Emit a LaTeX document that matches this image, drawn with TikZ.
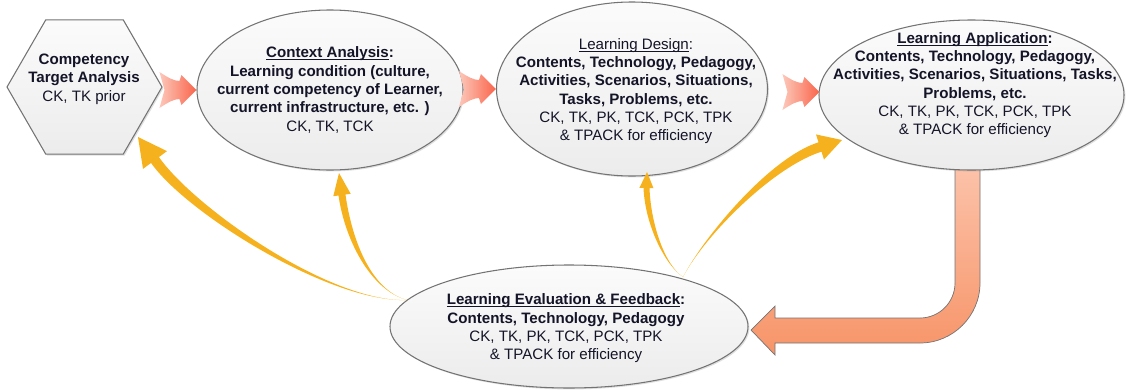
\documentclass[tikz,border=0pt]{standalone}
\usepackage{fontspec}
\setmainfont{Liberation Sans}
\usetikzlibrary{shapes.geometric,calc,shadows,backgrounds}
\definecolor{yel}{RGB}{246,178,30}
\definecolor{salA}{RGB}{252,196,172}
\definecolor{salB}{RGB}{247,148,104}
\definecolor{redA}{RGB}{252,200,186}
\definecolor{redB}{RGB}{250,100,75}
\definecolor{bord}{RGB}{115,115,115}
\definecolor{txt}{RGB}{20,20,40}
\newlength\ulw
\newcommand\ulbox[1]{\settowidth\ulw{#1}\rlap{\rule[-1.3pt]{\ulw}{0.45pt}}#1}
\tikzset{
  lbl/.style={align=center, inner sep=0pt, text=txt, font=\fontsize{8.6}{10.45}\selectfont},
  bubble/.style={ellipse, draw=bord, line width=0.6pt, top color=gray!3, bottom color=gray!15,
    inner sep=0pt, drop shadow={opacity=0.25, shadow xshift=0.8pt, shadow yshift=-0.8pt}},
  hexa/.style={regular polygon, regular polygon sides=6, draw=bord, line width=0.6pt,
    top color=gray!3, bottom color=gray!15, inner sep=0pt,
    drop shadow={opacity=0.25, shadow xshift=0.8pt, shadow yshift=-0.8pt}},
}
% tapered yellow arrow: #1 start, #2 #3 controls, #4 head base, #5 tip, #6 shaft half width, #7 head half width
\newcommand\yarrow[7]{%
  \coordinate (yL) at ($(#4)!#6!90:(#5)$);
  \coordinate (yR) at ($(#4)!#6!-90:(#5)$);
  \coordinate (yHL) at ($(#4)!#7!90:(#5)$);
  \coordinate (yHR) at ($(#4)!#7!-90:(#5)$);
  \coordinate (yCL) at ($(#3)+(yL)-(#4)$);
  \coordinate (yCR) at ($(#3)+(yR)-(#4)$);
  \fill[yel] (#1) .. controls (#2) and (yCL) .. (yL) -- (yHL) -- (#5) -- (yHR) -- (yR)
     .. controls (yCR) and (#2) .. (#1) -- cycle;}
% notched red arrow with its tip at #1
\newcommand\redarrow[1]{%
  \begin{scope}[shift={(#1)}]
  \shade[left color=redA, right color=redB] (-37,-18) .. controls (-28,-12) and (-22,-9) .. (-17,-9)
    -- (-15,-15) -- (0,0) -- (-15,15) -- (-17,9) .. controls (-22,9) and (-28,12) .. (-37,18)
    -- (-32,0) -- cycle;
  \end{scope}}
\begin{document}
\begin{tikzpicture}[x=0.02cm, y=-0.02cm]
\useasboundingbox (0,0) rectangle (1126,389);

% shapes
\node[hexa, minimum size=155*0.02cm] (hex) at (84.5,87) {};
\node[bubble, minimum width=266*0.02cm, minimum height=160*0.02cm] (ctx) at (330,90) {};
\node[bubble, minimum width=271*0.02cm, minimum height=174*0.02cm] (des) at (632,89) {};
\node[bubble, minimum width=305*0.02cm, minimum height=150*0.02cm] (app) at (971.5,95) {};
\node[bubble, minimum width=358*0.02cm, minimum height=123*0.02cm] (eva) at (569,326.5) {};

% texts
\node[lbl] (hexT) at (84,79) {\textbf{Competency}\\\textbf{Target Analysis}\\CK, TK prior};
\node[lbl] (ctxT) at (330,90) {\textbf{\ulbox{Context Analysis}:}\\
  \textbf{Learning condition (culture,}\\\textbf{current competency of Learner,}\\
  \textbf{current infrastructure, etc. )}\\CK, TK, TCK};
\node[lbl] (desT) at (636,91) {\ulbox{Learning Design}:\\
  \textbf{Contents, Technology, Pedagogy,}\\\textbf{Activities, Scenarios, Situations,}\\
  \textbf{Tasks, Problems, etc.}\\CK, TK, PK, TCK, PCK, TPK\\\& TPACK for efficiency};
\node[lbl] (appT) at (975,85) {\textbf{\ulbox{Learning Application}:}\\
  \textbf{Contents, Technology, Pedagogy,}\\\textbf{Activities, Scenarios, Situations, Tasks,}\\
  \textbf{Problems, etc.}\\CK, TK, PK, TCK, PCK, TPK\\\& TPACK for efficiency};
\node[lbl] (evaT) at (566,328.5) {\textbf{\ulbox{Learning Evaluation \& Feedback}:}\\
  \textbf{Contents, Technology, Pedagogy}\\CK, TK, PK, TCK, PCK, TPK\\\& TPACK for efficiency};

% red forward arrows
\redarrow{ctx.west}
\redarrow{des.west}
\redarrow{$(app.west)+(1,-3)$}

% salmon return arrow from Application to Evaluation
\begin{scope}[on background layer]
\shade[top color=salA, bottom color=salB, draw=bord, line width=0.4pt]
  (955,160) -- (980,160) -- (980,283) .. controls (980,316) and (953,343) .. (920,343)
  -- (775,343) -- (775,355) -- (751,330) -- (775,306) -- (775,318) -- (920,318)
  .. controls (939.3,318) and (955,302.3) .. (955,283) -- cycle;
\end{scope}

% yellow feedback arrows
\coordinate (s1) at (407,300);
\coordinate (s2) at (683,277);
\yarrow{s1}{330,303}{190,210}{155,160}{138,137}{2.8pt}{8.5pt}
\yarrow{s1}{370,290}{348,238}{342,195}{339,173}{2pt}{5pt}
\yarrow{s2}{665,265}{648,225}{646.5,188}{647,172}{1.7pt}{4pt}
\yarrow{s2}{705,235}{772,162}{820,147}{842,140}{2.8pt}{7.5pt}
\end{tikzpicture}
\end{document}
